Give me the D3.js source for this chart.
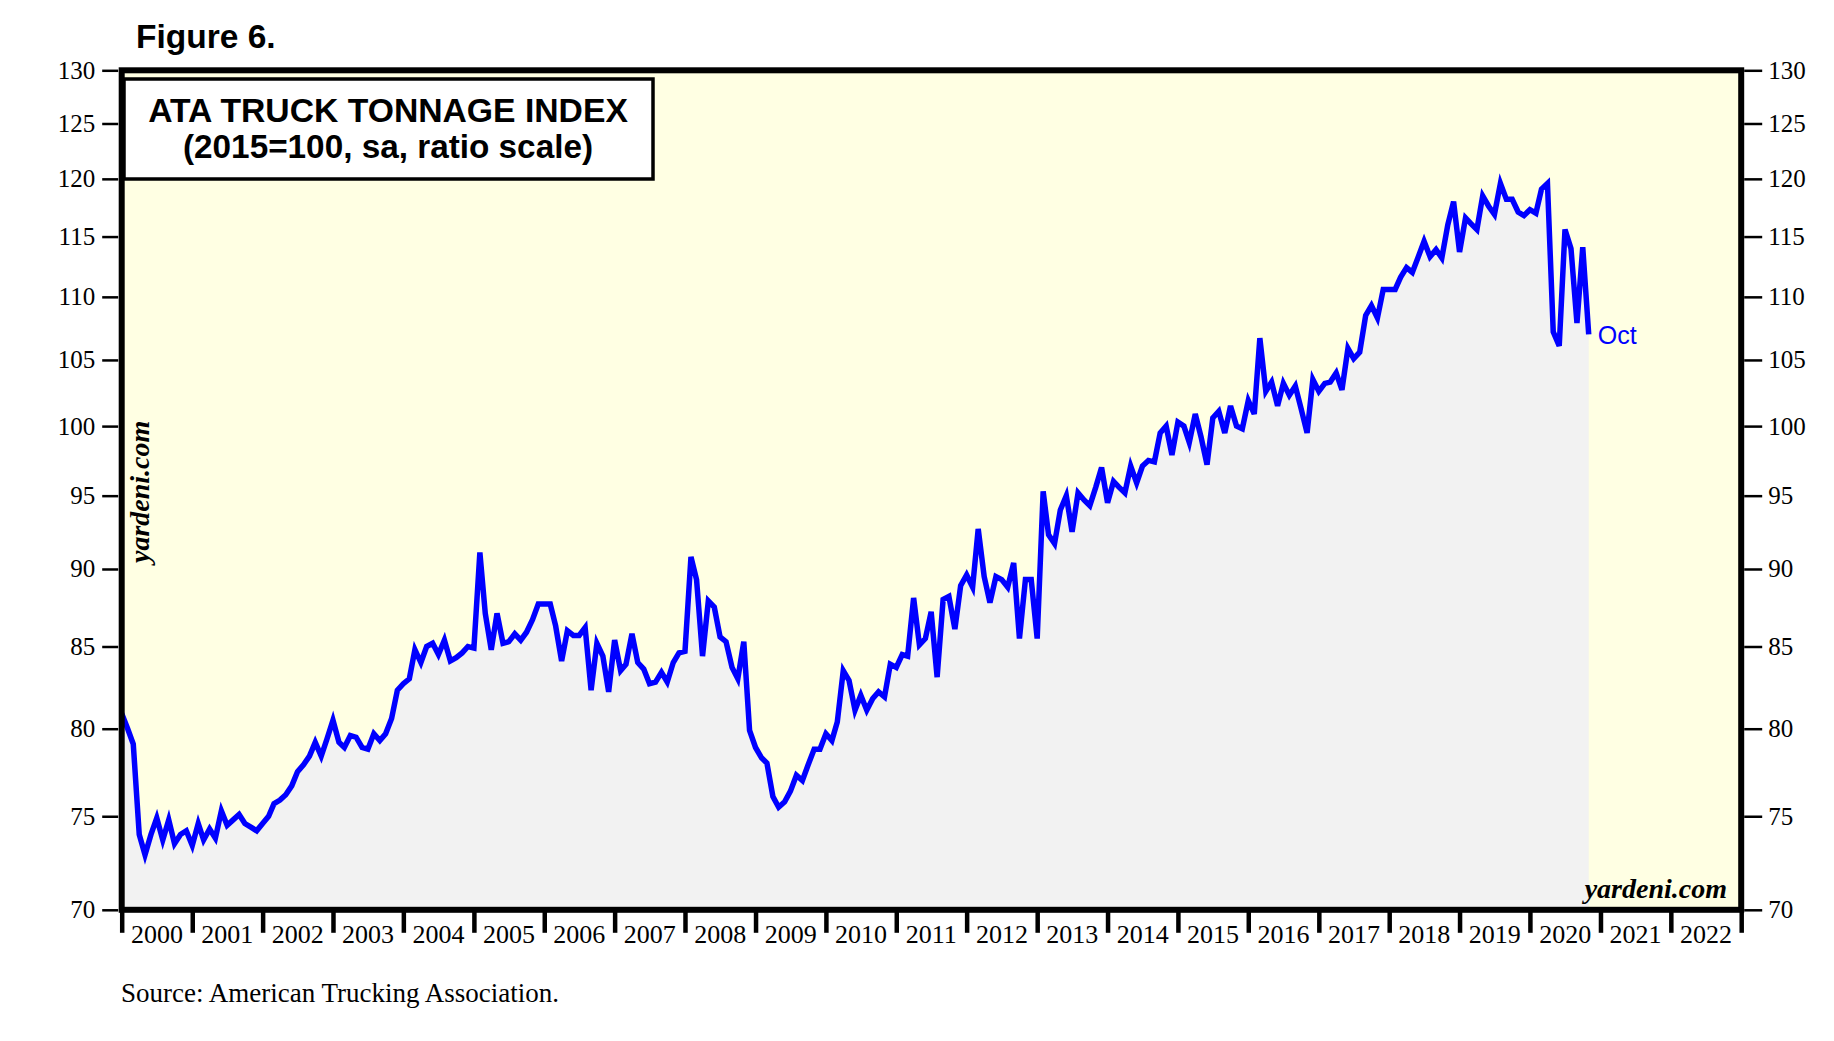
<!DOCTYPE html>
<html>
<head>
<meta charset="utf-8">
<script src="https://cdn.jsdelivr.net/npm/d3@7"></script>
<style>
  body { margin: 0; background: #fff; }
  svg text { font-family: "Liberation Serif", "Times New Roman", serif; }
</style>
</head>
<body>
<div id="chart"></div>
<script>
// ATA truck tonnage index, monthly (2015=100, sa), first value is Dec 1999
let startYear = 1999, startMonth = 11;
let tonnage = [
  80.9,
  // 2000
  80.0, 79.1, 74.0, 72.9, 74.0, 74.9, 73.7, 74.8, 73.5, 74.0, 74.2, 73.4,
  // 2001
  74.6, 73.7, 74.3, 73.8, 75.3, 74.5, 74.8, 75.1, 74.6, 74.4, 74.2, 74.6,
  // 2002
  75.0, 75.7, 75.9, 76.2, 76.7, 77.5, 77.9, 78.4, 79.2, 78.4, 79.4, 80.5,
  // 2003
  79.2, 78.9, 79.6, 79.5, 78.9, 78.8, 79.7, 79.3, 79.7, 80.6, 82.3, 82.7,
  // 2004
  83.0, 84.8, 84.0, 85.0, 85.2, 84.5, 85.4, 84.1, 84.3, 84.6, 85.0, 84.9,
  // 2005
  91.1, 87.1, 84.8, 87.1, 85.2, 85.3, 85.8, 85.4, 85.9, 86.7, 87.7, 87.7,
  // 2006
  87.7, 86.3, 84.1, 86.0, 85.7, 85.7, 86.2, 82.3, 85.2, 84.4, 82.2, 85.4,
  // 2007
  83.5, 83.9, 85.8, 84.0, 83.6, 82.7, 82.8, 83.4, 82.8, 84.0, 84.6, 84.7,
  // 2008
  90.8, 89.3, 84.4, 87.9, 87.5, 85.6, 85.3, 83.7, 83.0, 85.3, 79.9, 78.9,
  // 2009
  78.3, 78.0, 76.1, 75.5, 75.8, 76.4, 77.3, 77.0, 77.9, 78.8, 78.8, 79.7,
  // 2010
  79.3, 80.4, 83.5, 82.9, 81.1, 82.0, 81.1, 81.8, 82.2, 81.9, 83.9, 83.7,
  // 2011
  84.5, 84.4, 88.1, 85.1, 85.5, 87.2, 83.1, 88.0, 88.2, 86.1, 88.9, 89.6,
  // 2012
  88.8, 92.7, 89.5, 87.8, 89.5, 89.3, 88.8, 90.4, 85.5, 89.3, 89.3, 85.5,
  // 2013
  95.3, 92.3, 91.7, 94.0, 95.0, 92.5, 95.2, 94.7, 94.3, 95.6, 97.0, 94.5,
  // 2014
  96.0, 95.6, 95.2, 97.1, 95.9, 97.1, 97.5, 97.4, 99.5, 100.0, 97.9, 100.3,
  // 2015
  100.0, 98.8, 100.9, 99.2, 97.2, 100.6, 101.1, 99.5, 101.5, 100.0, 99.8, 101.9,
  // 2016
  100.9, 106.7, 102.6, 103.3, 101.5, 103.2, 102.3, 103.0, 101.3, 99.5, 103.5, 102.6,
  // 2017
  103.2, 103.3, 104.0, 102.7, 105.9, 105.1, 105.6, 108.5, 109.3, 108.3, 110.6, 110.6,
  // 2018
  110.6, 111.6, 112.4, 112.0, 113.3, 114.6, 113.3, 113.9, 113.2, 116.0, 118.0, 113.7,
  // 2019
  116.6, 116.1, 115.6, 118.5, 117.6, 116.9, 119.6, 118.2, 118.2, 117.1, 116.8, 117.3,
  // 2020 (Jan - Oct)
  117.0, 119.1, 119.6, 107.2, 106.1, 115.6, 114.0, 107.9, 114.1, 107.0
];

let yTicks = [70, 75, 80, 85, 90, 95, 100, 105, 110, 115, 120, 125, 130];
let yearLabels = [2000, 2001, 2002, 2003, 2004, 2005, 2006, 2007, 2008, 2009, 2010, 2011,
  2012, 2013, 2014, 2015, 2016, 2017, 2018, 2019, 2020, 2021, 2022];

let width = 1834, height = 1041;
let plot = { left: 121.7, right: 1741.2, top: 70.3, bottom: 909.8 };

let svg = d3.select("#chart")
  .append("svg")
  .attr("width", width)
  .attr("height", height);

let x = d3.scaleTime()
  .domain([new Date(2000, 0, 1), new Date(2023, 0, 1)])
  .range([plot.left, plot.right]);

let y = d3.scaleLog()
  .domain([70, 130])
  .range([plot.bottom, plot.top]);

// monthly values are plotted at the end of their month
let points = tonnage.map(function(v, i) {
  return { date: new Date(startYear, startMonth + i + 1, 1), value: v };
});

// plot background
svg.append("rect")
  .attr("x", plot.left)
  .attr("y", plot.top)
  .attr("width", plot.right - plot.left)
  .attr("height", plot.bottom - plot.top)
  .style("fill", "#ffffe3");

let area = d3.area()
  .x(function(d) { return x(d.date); })
  .y0(plot.bottom)
  .y1(function(d) { return y(d.value); });

let line = d3.line()
  .x(function(d) { return x(d.date); })
  .y(function(d) { return y(d.value); });

svg.append("path")
  .datum(points)
  .attr("d", area)
  .style("fill", "#f2f2f2");

svg.append("path")
  .datum(points)
  .attr("d", line)
  .style("fill", "none")
  .style("stroke", "#0000ff")
  .style("stroke-width", 5.5)
  .style("stroke-linejoin", "miter");

// frame
svg.append("rect")
  .attr("x", plot.left)
  .attr("y", plot.top)
  .attr("width", plot.right - plot.left)
  .attr("height", plot.bottom - plot.top)
  .style("fill", "none")
  .style("stroke", "#000")
  .style("stroke-width", 6);

// y axes, left and right
let yLeft = svg.append("g")
  .attr("transform", "translate(" + (plot.left - 3.5) + ",0)")
  .call(d3.axisLeft(y).tickValues(yTicks).tickSize(16).tickPadding(7).tickFormat(d3.format("d")));

let yRight = svg.append("g")
  .attr("transform", "translate(" + (plot.right + 3) + ",0)")
  .call(d3.axisRight(y).tickValues(yTicks).tickSize(18).tickPadding(6).tickFormat(d3.format("d")));

[yLeft, yRight].forEach(function(g) {
  g.select(".domain").remove();
  g.selectAll(".tick line").style("stroke", "#000").style("stroke-width", 2.5);
  g.selectAll(".tick text")
    .style("font-family", "Liberation Serif, serif")
    .style("font-size", "25px")
    .style("fill", "#000");
});

// year ticks below the frame
let yearTicks = yearLabels.concat([2023]).map(function(yr) { return new Date(yr, 0, 1); });
let xAxis = svg.append("g")
  .attr("transform", "translate(0," + plot.bottom + ")")
  .call(d3.axisBottom(x).tickValues(yearTicks).tickSize(23).tickFormat(""));
xAxis.select(".domain").remove();
xAxis.selectAll(".tick line").style("stroke", "#000").style("stroke-width", 4.5);

svg.selectAll(".year-label")
  .data(yearLabels)
  .enter()
  .append("text")
  .attr("class", "year-label")
  .attr("x", function(d) { return x(new Date(d, 6, 2)); })
  .attr("y", 943)
  .attr("text-anchor", "middle")
  .style("font-size", "26px")
  .text(function(d) { return d; });

// title box
svg.append("rect")
  .attr("x", 124)
  .attr("y", 79)
  .attr("width", 529)
  .attr("height", 100)
  .style("fill", "#fff")
  .style("stroke", "#000")
  .style("stroke-width", 3.5);

svg.append("text")
  .attr("x", 388)
  .attr("y", 122)
  .attr("text-anchor", "middle")
  .style("font-family", "Liberation Sans, Arial, sans-serif")
  .style("font-weight", "bold")
  .style("font-size", "33.7px")
  .text("ATA TRUCK TONNAGE INDEX");

svg.append("text")
  .attr("x", 388)
  .attr("y", 158)
  .attr("text-anchor", "middle")
  .style("font-family", "Liberation Sans, Arial, sans-serif")
  .style("font-weight", "bold")
  .style("font-size", "33.3px")
  .text("(2015=100, sa, ratio scale)");

svg.append("text")
  .attr("x", 136)
  .attr("y", 48)
  .style("font-family", "Liberation Sans, Arial, sans-serif")
  .style("font-weight", "bold")
  .style("font-size", "33.5px")
  .text("Figure 6.");

// last value label
let last = points[points.length - 1];
svg.append("text")
  .attr("x", x(last.date) + 9)
  .attr("y", y(last.value) + 10)
  .style("font-family", "Liberation Sans, Arial, sans-serif")
  .style("font-size", "25px")
  .style("fill", "#0000ff")
  .text("Oct");

// watermarks
svg.append("text")
  .attr("transform", "translate(149,563) rotate(-90)")
  .style("font-style", "italic")
  .style("font-weight", "bold")
  .style("font-size", "28px")
  .text("yardeni.com");

svg.append("text")
  .attr("x", 1727)
  .attr("y", 898)
  .attr("text-anchor", "end")
  .style("font-style", "italic")
  .style("font-weight", "bold")
  .style("font-size", "28px")
  .text("yardeni.com");

svg.append("text")
  .attr("x", 121)
  .attr("y", 1002)
  .style("font-size", "27px")
  .text("Source: American Trucking Association.");
</script>
</body>
</html>
